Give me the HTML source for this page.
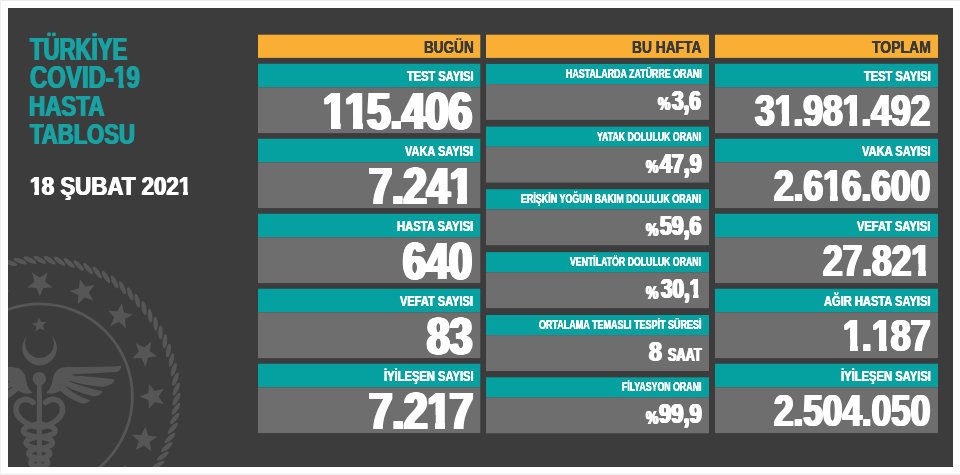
<!DOCTYPE html>
<html lang="tr"><head><meta charset="utf-8"><title>Türkiye COVID-19 Hasta Tablosu</title>
<style>
html,body{margin:0;padding:0;background:#fff;}
body{width:960px;height:475px;position:relative;overflow:hidden;font-family:"Liberation Sans",sans-serif;font-weight:700;}
.r{position:absolute;}
.t{position:absolute;white-space:nowrap;line-height:1;transform-origin:0 0;font-weight:700;}
#panel{position:absolute;left:8px;top:8px;width:945px;height:459px;background:#3c3c3c;overflow:hidden;}
#emblem{position:absolute;left:0;top:0;}
.o{display:inline-block;margin-right:-0.03em;clip-path:polygon(-1em -1em,calc(.3706em + var(--o)) -1em,calc(.3706em + var(--o)) 2em,calc(.2334em - var(--o)) 2em,calc(.2334em - var(--o)) .5667em,-1em .5667em);}
</style></head><body>

<div class="r" style="left:0;top:0;width:960px;height:1px;background:#ececec"></div>
<div class="r" style="left:0;top:0;width:1px;height:475px;background:#ececec"></div>
<div class="r" style="left:0;top:473px;width:960px;height:1px;background:#f8f8f8"></div>
<div class="r" style="left:0;top:474px;width:960px;height:1px;background:#ececec"></div>
<div id="panel"><svg id="emblem" width="960" height="475" viewBox="0 0 960 475" style="position:absolute;left:-8px;top:-8px" fill="#565656" stroke="none"><g><ellipse cx="39.8" cy="259.8" rx="7.1" ry="2.3" transform="rotate(29.0 39.8 259.8)"/><ellipse cx="49.7" cy="260.2" rx="7.1" ry="2.3" transform="rotate(33.1 49.7 260.2)"/><ellipse cx="59.5" cy="261.2" rx="7.1" ry="2.3" transform="rotate(37.3 59.5 261.2)"/><ellipse cx="69.2" cy="263.0" rx="7.1" ry="2.3" transform="rotate(41.4 69.2 263.0)"/><ellipse cx="78.7" cy="265.5" rx="7.1" ry="2.3" transform="rotate(45.6 78.7 265.5)"/><ellipse cx="88.1" cy="268.6" rx="7.1" ry="2.3" transform="rotate(49.7 88.1 268.6)"/><ellipse cx="97.2" cy="272.4" rx="7.1" ry="2.3" transform="rotate(53.8 97.2 272.4)"/><ellipse cx="106.0" cy="276.9" rx="7.1" ry="2.3" transform="rotate(58.0 106.0 276.9)"/><ellipse cx="114.5" cy="282.0" rx="7.1" ry="2.3" transform="rotate(62.1 114.5 282.0)"/><ellipse cx="122.5" cy="287.7" rx="7.1" ry="2.3" transform="rotate(66.2 122.5 287.7)"/><ellipse cx="130.2" cy="293.9" rx="7.1" ry="2.3" transform="rotate(70.4 130.2 293.9)"/><ellipse cx="137.3" cy="300.7" rx="7.1" ry="2.3" transform="rotate(74.5 137.3 300.7)"/><ellipse cx="144.0" cy="308.0" rx="7.1" ry="2.3" transform="rotate(78.7 144.0 308.0)"/><ellipse cx="150.1" cy="315.8" rx="7.1" ry="2.3" transform="rotate(82.8 150.1 315.8)"/><ellipse cx="155.6" cy="323.9" rx="7.1" ry="2.3" transform="rotate(86.9 155.6 323.9)"/><ellipse cx="160.6" cy="332.5" rx="7.1" ry="2.3" transform="rotate(91.1 160.6 332.5)"/><ellipse cx="164.9" cy="341.4" rx="7.1" ry="2.3" transform="rotate(95.2 164.9 341.4)"/><ellipse cx="168.5" cy="350.5" rx="7.1" ry="2.3" transform="rotate(99.3 168.5 350.5)"/><ellipse cx="171.5" cy="359.9" rx="7.1" ry="2.3" transform="rotate(103.5 171.5 359.9)"/><ellipse cx="173.8" cy="369.5" rx="7.1" ry="2.3" transform="rotate(107.6 173.8 369.5)"/><ellipse cx="175.4" cy="379.3" rx="7.1" ry="2.3" transform="rotate(111.8 175.4 379.3)"/><ellipse cx="176.3" cy="389.1" rx="7.1" ry="2.3" transform="rotate(115.9 176.3 389.1)"/><ellipse cx="176.5" cy="399.0" rx="7.1" ry="2.3" transform="rotate(120.0 176.5 399.0)"/><ellipse cx="175.9" cy="408.8" rx="7.1" ry="2.3" transform="rotate(124.2 175.9 408.8)"/><ellipse cx="174.7" cy="418.6" rx="7.1" ry="2.3" transform="rotate(128.3 174.7 418.6)"/><ellipse cx="172.8" cy="428.3" rx="7.1" ry="2.3" transform="rotate(132.4 172.8 428.3)"/><ellipse cx="170.1" cy="437.8" rx="7.1" ry="2.3" transform="rotate(136.6 170.1 437.8)"/><ellipse cx="166.8" cy="447.1" rx="7.1" ry="2.3" transform="rotate(140.7 166.8 447.1)"/><ellipse cx="162.8" cy="456.1" rx="7.1" ry="2.3" transform="rotate(144.9 162.8 456.1)"/><ellipse cx="158.2" cy="464.9" rx="7.1" ry="2.3" transform="rotate(149.0 158.2 464.9)"/><ellipse cx="152.9" cy="473.2" rx="7.1" ry="2.3" transform="rotate(153.1 152.9 473.2)"/><ellipse cx="0.9" cy="265.5" rx="7.1" ry="2.3" transform="rotate(372.4 0.9 265.5)"/><ellipse cx="10.4" cy="263.0" rx="7.1" ry="2.3" transform="rotate(376.6 10.4 263.0)"/><ellipse cx="20.1" cy="261.2" rx="7.1" ry="2.3" transform="rotate(380.7 20.1 261.2)"/><ellipse cx="29.9" cy="260.2" rx="7.1" ry="2.3" transform="rotate(384.9 29.9 260.2)"/></g><polygon points="39.8,296.6 36.4,287.9 27.2,287.4 34.4,281.5 32.0,272.5 39.8,277.6 47.6,272.5 45.2,281.5 52.4,287.4 43.2,287.9"/><polygon points="78.0,304.2 78.2,294.9 69.9,290.9 78.8,288.2 80.0,279.0 85.3,286.6 94.5,285.0 88.8,292.4 93.2,300.6 84.5,297.5"/><polygon points="110.4,325.9 114.2,317.4 108.0,310.4 117.2,311.4 121.9,303.3 123.9,312.4 133.0,314.4 124.9,319.1 125.9,328.3 118.9,322.1"/><polygon points="132.1,358.3 138.8,351.8 135.7,343.1 143.9,347.5 151.3,341.8 149.7,351.0 157.3,356.3 148.1,357.5 145.4,366.4 141.4,358.1"/><polygon points="139.7,396.5 148.4,393.1 148.9,383.9 154.8,391.1 163.8,388.7 158.7,396.5 163.8,404.3 154.8,401.9 148.9,409.1 148.4,399.9"/><polygon points="132.1,434.7 141.4,434.9 145.4,426.6 148.1,435.5 157.3,436.7 149.7,442.0 151.3,451.2 143.9,445.5 135.7,449.9 138.8,441.2"/><polygon points="110.4,467.1 118.9,470.9 125.9,464.7 124.9,473.9 133.0,478.6 123.9,480.6 121.9,489.7 117.2,481.6 108.0,482.6 114.2,475.6"/><polygon points="1.6,304.2 -4.9,297.5 -13.6,300.6 -9.2,292.4 -14.9,285.0 -5.7,286.6 -0.4,279.0 0.8,288.2 9.7,290.9 1.4,294.9"/><circle cx="39.8" cy="396.5" r="92.6" fill="none" stroke="#565656" stroke-width="2.8"/><polygon points="38.6,317.2 41.1,322.1 46.5,321.8 42.7,325.7 44.6,330.8 39.8,328.3 35.5,331.8 36.3,326.4 31.8,323.4 37.2,322.5"/><path d="M27.8 335.35A17.3 17.3 0 1 0 51.4 335.35A14.4 14.4 0 1 1 27.8 335.35Z"/><circle cx="39.3" cy="378.8" r="6.8"/><path d="M37.4 383 L36.8 392 L36.8 480 L41.9 480 L41.9 392 L41.3 383Z"/><path d="M46 393C49.5 390 51.5 386 52.3 381.5C53 376 55 371 59.5 368.6C62 367.3 66 367 70 367L75 367L72.5 375L69 381L66.5 386.5L61 390.5C56.5 393 52 394.8 46 393ZM64 367.2L112 366.6C116 366.6 119 366.3 121.5 365.6C121 369 119.5 371.5 116.5 372L70.5 374.4ZM70 375.3C85 376.3 100 377.8 112 379C113.5 379.2 114.6 379.8 114.6 380.8C112 384.5 107 387 101 386.8C90 386 78 383.5 67.3 380.3ZM67.3 380.8C79 385.2 91 389 102.8 391.4C101 394.5 97.5 396.5 93.5 396.2C83 394 73 390.2 64.8 385.8ZM64.8 386.3C72 392 81 397.5 90.5 400.6C88 403.3 84 404.2 81 403.2C72 400 65 395.5 59.5 390Z"/><path d="M46 393C49.5 390 51.5 386 52.3 381.5C53 376 55 371 59.5 368.6C62 367.3 66 367 70 367L75 367L72.5 375L69 381L66.5 386.5L61 390.5C56.5 393 52 394.8 46 393ZM64 367.2L112 366.6C116 366.6 119 366.3 121.5 365.6C121 369 119.5 371.5 116.5 372L70.5 374.4ZM70 375.3C85 376.3 100 377.8 112 379C113.5 379.2 114.6 379.8 114.6 380.8C112 384.5 107 387 101 386.8C90 386 78 383.5 67.3 380.3ZM67.3 380.8C79 385.2 91 389 102.8 391.4C101 394.5 97.5 396.5 93.5 396.2C83 394 73 390.2 64.8 385.8ZM64.8 386.3C72 392 81 397.5 90.5 400.6C88 403.3 84 404.2 81 403.2C72 400 65 395.5 59.5 390Z" transform="translate(78.6 0) scale(-1 1)"/><path d="M42 427 C54 424 63.5 417 62.5 408 C61.5 399.5 52 396.8 45.5 402.5" fill="none" stroke="#565656" stroke-width="5.6" stroke-linecap="round"/><path d="M42 427 C54 424 63.5 417 62.5 408 C61.5 399.5 52 396.8 45.5 402.5" fill="none" stroke="#565656" stroke-width="5.6" stroke-linecap="round" transform="translate(78.6 0) scale(-1 1)"/><path d="M41.3 424.0 C17.7 425.9 17.7 435.1 39.3 437.0 C56.8 438.7 56.8 446.8 39.3 448.5 C25.1 450.0 25.1 457.0 39.3 458.5 C50.8 459.8 50.8 465.7 39.3 467.0 C29.8 468.2 29.8 473.8 39.3 475.0" fill="none" stroke="#565656" stroke-width="5.4" stroke-linecap="round"/><path d="M37.3 424.0 C60.9 425.9 60.9 435.1 39.3 437.0 C21.7 438.7 21.7 446.8 39.3 448.5 C53.5 450.0 53.5 457.0 39.3 458.5 C27.8 459.8 27.8 465.7 39.3 467.0 C48.8 468.2 48.8 473.8 39.3 475.0" fill="none" stroke="#565656" stroke-width="5.4" stroke-linecap="round"/></svg></div>
<svg class="r" style="left:0;top:0" width="960" height="475" viewBox="0 0 960 475"><rect x="258.00" y="34.70" width="222.30" height="23.20" fill="#f8af34"/><rect x="486.00" y="34.70" width="223.00" height="23.20" fill="#f8af34"/><rect x="715.00" y="34.70" width="223.00" height="23.20" fill="#f8af34"/><rect x="258.00" y="63.75" width="222.30" height="23.55" fill="#05a0a0"/><rect x="258.00" y="87.30" width="222.30" height="45.80" fill="#6e6e6e"/><rect x="715.00" y="63.75" width="223.00" height="23.55" fill="#05a0a0"/><rect x="715.00" y="87.30" width="223.00" height="45.80" fill="#6e6e6e"/><rect x="258.00" y="138.75" width="222.30" height="23.55" fill="#05a0a0"/><rect x="258.00" y="162.30" width="222.30" height="45.80" fill="#6e6e6e"/><rect x="715.00" y="138.75" width="223.00" height="23.55" fill="#05a0a0"/><rect x="715.00" y="162.30" width="223.00" height="45.80" fill="#6e6e6e"/><rect x="258.00" y="213.75" width="222.30" height="23.55" fill="#05a0a0"/><rect x="258.00" y="237.30" width="222.30" height="45.80" fill="#6e6e6e"/><rect x="715.00" y="213.75" width="223.00" height="23.55" fill="#05a0a0"/><rect x="715.00" y="237.30" width="223.00" height="45.80" fill="#6e6e6e"/><rect x="258.00" y="288.75" width="222.30" height="23.55" fill="#05a0a0"/><rect x="258.00" y="312.30" width="222.30" height="45.80" fill="#6e6e6e"/><rect x="715.00" y="288.75" width="223.00" height="23.55" fill="#05a0a0"/><rect x="715.00" y="312.30" width="223.00" height="45.80" fill="#6e6e6e"/><rect x="258.00" y="363.75" width="222.30" height="23.55" fill="#05a0a0"/><rect x="258.00" y="387.30" width="222.30" height="45.80" fill="#6e6e6e"/><rect x="715.00" y="363.75" width="223.00" height="23.55" fill="#05a0a0"/><rect x="715.00" y="387.30" width="223.00" height="45.80" fill="#6e6e6e"/><rect x="486.00" y="63.90" width="223.00" height="20.20" fill="#05a0a0"/><rect x="486.00" y="84.05" width="223.00" height="35.85" fill="#6e6e6e"/><rect x="486.00" y="126.60" width="223.00" height="20.20" fill="#05a0a0"/><rect x="486.00" y="146.75" width="223.00" height="35.85" fill="#6e6e6e"/><rect x="486.00" y="189.20" width="223.00" height="20.20" fill="#05a0a0"/><rect x="486.00" y="209.35" width="223.00" height="35.85" fill="#6e6e6e"/><rect x="486.00" y="252.10" width="223.00" height="20.20" fill="#05a0a0"/><rect x="486.00" y="272.25" width="223.00" height="35.85" fill="#6e6e6e"/><rect x="486.00" y="315.00" width="223.00" height="20.20" fill="#05a0a0"/><rect x="486.00" y="335.15" width="223.00" height="35.85" fill="#6e6e6e"/><rect x="486.00" y="377.30" width="223.00" height="20.20" fill="#05a0a0"/><rect x="486.00" y="397.45" width="223.00" height="35.85" fill="#6e6e6e"/></svg>
<span class="t" style="left:30.10px;top:33.90px;font-size:30.6719px;color:#17a2a3;transform:scaleX(0.7236);text-shadow:1.04px 0 0 #17a2a3,-1.04px 0 0 #17a2a3;">TÜRKİYE</span>
<span class="t" style="left:30.15px;top:62.00px;font-size:30.5312px;color:#17a2a3;transform:scaleX(0.7846);text-shadow:0.96px 0 0 #17a2a3,-0.96px 0 0 #17a2a3;--o:0.96px;">COVID-<span class="o">1</span>9</span>
<span class="t" style="left:29.45px;top:90.50px;font-size:30.3750px;color:#17a2a3;transform:scaleX(0.7370);text-shadow:1.02px 0 0 #17a2a3,-1.02px 0 0 #17a2a3;">HASTA</span>
<span class="t" style="left:30.10px;top:118.90px;font-size:30.3750px;color:#17a2a3;transform:scaleX(0.7256);text-shadow:1.03px 0 0 #17a2a3,-1.03px 0 0 #17a2a3;">TABLOSU</span>
<span class="t" style="left:29.62px;top:174.20px;font-size:25.4375px;color:#fff;transform:scaleX(0.8765);text-shadow:0.74px 0 0 #fff,-0.74px 0 0 #fff;--o:0.74px;"><span class="o">1</span>8 ŞUBAT 202<span class="o">1</span></span>
<span class="t" style="left:423.84px;top:39.60px;font-size:16.7188px;color:#3a3a3a;transform:scaleX(0.8109);text-shadow:0.31px 0 0 #3a3a3a,-0.31px 0 0 #3a3a3a;">BUGÜN</span>
<span class="t" style="left:632.13px;top:39.60px;font-size:16.7188px;color:#3a3a3a;transform:scaleX(0.8245);text-shadow:0.30px 0 0 #3a3a3a,-0.30px 0 0 #3a3a3a;">BU HAFTA</span>
<span class="t" style="left:871.59px;top:39.60px;font-size:16.7188px;color:#3a3a3a;transform:scaleX(0.8382);text-shadow:0.30px 0 0 #3a3a3a,-0.30px 0 0 #3a3a3a;">TOPLAM</span>
<span class="t" style="left:406.57px;top:68.00px;font-size:15.5469px;color:#fff;transform:scaleX(0.7123);text-shadow:0.42px 0 0 #fff,-0.42px 0 0 #fff;">TEST SAYISI</span>
<span class="t" style="left:322.93px;top:85.20px;font-size:52.6094px;color:#fff;transform:scaleX(0.7974);text-shadow:2.26px 0 0 #fff,-2.26px 0 0 #fff,1.50px 0 0 #fff,-1.50px 0 0 #fff,0.75px 0 0 #fff,-0.75px 0 0 #fff;--o:2.26px;"><span class="o">1</span><span class="o">1</span>5.406</span>
<span class="t" style="left:405.20px;top:143.00px;font-size:15.5469px;color:#fff;transform:scaleX(0.7072);text-shadow:0.42px 0 0 #fff,-0.42px 0 0 #fff;">VAKA SAYISI</span>
<span class="t" style="left:369.01px;top:160.20px;font-size:52.6094px;color:#fff;transform:scaleX(0.7891);text-shadow:2.28px 0 0 #fff,-2.28px 0 0 #fff,1.52px 0 0 #fff,-1.52px 0 0 #fff,0.76px 0 0 #fff,-0.76px 0 0 #fff;--o:2.28px;">7.24<span class="o">1</span></span>
<span class="t" style="left:396.95px;top:218.00px;font-size:15.5469px;color:#fff;transform:scaleX(0.7220);text-shadow:0.42px 0 0 #fff,-0.42px 0 0 #fff;">HASTA SAYISI</span>
<span class="t" style="left:403.28px;top:235.20px;font-size:52.6094px;color:#fff;transform:scaleX(0.7864);text-shadow:2.29px 0 0 #fff,-2.29px 0 0 #fff,1.53px 0 0 #fff,-1.53px 0 0 #fff,0.76px 0 0 #fff,-0.76px 0 0 #fff;">640</span>
<span class="t" style="left:400.20px;top:293.00px;font-size:15.5469px;color:#fff;transform:scaleX(0.7104);text-shadow:0.42px 0 0 #fff,-0.42px 0 0 #fff;">VEFAT SAYISI</span>
<span class="t" style="left:426.89px;top:310.20px;font-size:52.6094px;color:#fff;transform:scaleX(0.7731);text-shadow:2.33px 0 0 #fff,-2.33px 0 0 #fff,1.55px 0 0 #fff,-1.55px 0 0 #fff,0.78px 0 0 #fff,-0.78px 0 0 #fff;">83</span>
<span class="t" style="left:383.55px;top:368.00px;font-size:15.5469px;color:#fff;transform:scaleX(0.7194);text-shadow:0.42px 0 0 #fff,-0.42px 0 0 #fff;">İYİLEŞEN SAYISI</span>
<span class="t" style="left:368.99px;top:385.20px;font-size:52.6094px;color:#fff;transform:scaleX(0.7997);text-shadow:2.25px 0 0 #fff,-2.25px 0 0 #fff,1.50px 0 0 #fff,-1.50px 0 0 #fff,0.75px 0 0 #fff,-0.75px 0 0 #fff;--o:2.25px;">7.2<span class="o">1</span>7</span>
<span class="t" style="left:863.77px;top:68.00px;font-size:15.5469px;color:#fff;transform:scaleX(0.7134);text-shadow:0.42px 0 0 #fff,-0.42px 0 0 #fff;">TEST SAYISI</span>
<span class="t" style="left:754.75px;top:89.20px;font-size:43.8906px;color:#fff;transform:scaleX(0.8083);text-shadow:1.48px 0 0 #fff,-1.48px 0 0 #fff,0.74px 0 0 #fff,-0.74px 0 0 #fff;--o:1.48px;">3<span class="o">1</span>.98<span class="o">1</span>.492</span>
<span class="t" style="left:861.80px;top:143.00px;font-size:15.5469px;color:#fff;transform:scaleX(0.7145);text-shadow:0.42px 0 0 #fff,-0.42px 0 0 #fff;">VAKA SAYISI</span>
<span class="t" style="left:773.97px;top:164.20px;font-size:43.8906px;color:#fff;transform:scaleX(0.8059);text-shadow:1.49px 0 0 #fff,-1.49px 0 0 #fff,0.74px 0 0 #fff,-0.74px 0 0 #fff;--o:1.49px;">2.6<span class="o">1</span>6.600</span>
<span class="t" style="left:857.20px;top:218.00px;font-size:15.5469px;color:#fff;transform:scaleX(0.7134);text-shadow:0.42px 0 0 #fff,-0.42px 0 0 #fff;">VEFAT SAYISI</span>
<span class="t" style="left:822.97px;top:239.20px;font-size:43.8906px;color:#fff;transform:scaleX(0.8043);text-shadow:1.49px 0 0 #fff,-1.49px 0 0 #fff,0.75px 0 0 #fff,-0.75px 0 0 #fff;--o:1.49px;">27.82<span class="o">1</span></span>
<span class="t" style="left:823.99px;top:293.00px;font-size:15.5469px;color:#fff;transform:scaleX(0.7158);text-shadow:0.42px 0 0 #fff,-0.42px 0 0 #fff;">AĞIR HASTA SAYISI</span>
<span class="t" style="left:842.75px;top:314.20px;font-size:43.8906px;color:#fff;transform:scaleX(0.8171);text-shadow:1.47px 0 0 #fff,-1.47px 0 0 #fff,0.73px 0 0 #fff,-0.73px 0 0 #fff;--o:1.47px;"><span class="o">1</span>.<span class="o">1</span>87</span>
<span class="t" style="left:840.55px;top:368.00px;font-size:15.5469px;color:#fff;transform:scaleX(0.7218);text-shadow:0.42px 0 0 #fff,-0.42px 0 0 #fff;">İYİLEŞEN SAYISI</span>
<span class="t" style="left:773.98px;top:389.20px;font-size:43.8906px;color:#fff;transform:scaleX(0.8004);text-shadow:1.50px 0 0 #fff,-1.50px 0 0 #fff,0.75px 0 0 #fff,-0.75px 0 0 #fff;">2.504.050</span>
<span class="t" style="left:565.61px;top:67.90px;font-size:12.6406px;color:#fff;transform:scaleX(0.7020);text-shadow:0.28px 0 0 #fff,-0.28px 0 0 #fff;">HASTALARDA ZATÜRRE ORANI</span>
<span class="t" style="left:597.23px;top:130.60px;font-size:12.6406px;color:#fff;transform:scaleX(0.6948);text-shadow:0.29px 0 0 #fff,-0.29px 0 0 #fff;">YATAK DOLULUK ORANI</span>
<span class="t" style="left:521.30px;top:193.20px;font-size:12.6406px;color:#fff;transform:scaleX(0.7055);text-shadow:0.28px 0 0 #fff,-0.28px 0 0 #fff;">ERİŞKİN YOĞUN BAKIM DOLULUK ORANI</span>
<span class="t" style="left:570.32px;top:256.10px;font-size:12.6406px;color:#fff;transform:scaleX(0.6927);text-shadow:0.29px 0 0 #fff,-0.29px 0 0 #fff;">VENTİLATÖR DOLULUK ORANI</span>
<span class="t" style="left:538.83px;top:319.00px;font-size:12.6406px;color:#fff;transform:scaleX(0.7128);text-shadow:0.28px 0 0 #fff,-0.28px 0 0 #fff;">ORTALAMA TEMASLI TESPİT SÜRESİ</span>
<span class="t" style="left:622.01px;top:381.30px;font-size:12.6406px;color:#fff;transform:scaleX(0.6957);text-shadow:0.29px 0 0 #fff,-0.29px 0 0 #fff;">FİLYASYON ORANI</span>
<span class="t" style="left:658.10px;top:95.40px;font-size:18.7500px;color:#fff;transform:scaleX(0.7451);text-shadow:0.87px 0 0 #fff,-0.87px 0 0 #fff;">%</span>
<span class="t" style="left:672.20px;top:87.90px;font-size:26.8906px;color:#fff;transform:scaleX(0.7741);text-shadow:1.29px 0 0 #fff,-1.29px 0 0 #fff,0.65px 0 0 #fff,-0.65px 0 0 #fff;">3,6</span>
<span class="t" style="left:646.00px;top:158.10px;font-size:18.7500px;color:#fff;transform:scaleX(0.7451);text-shadow:0.87px 0 0 #fff,-0.87px 0 0 #fff;">%</span>
<span class="t" style="left:659.67px;top:150.60px;font-size:26.8906px;color:#fff;transform:scaleX(0.7935);text-shadow:1.26px 0 0 #fff,-1.26px 0 0 #fff,0.63px 0 0 #fff,-0.63px 0 0 #fff;">47,9</span>
<span class="t" style="left:646.30px;top:220.70px;font-size:18.7500px;color:#fff;transform:scaleX(0.7451);text-shadow:0.87px 0 0 #fff,-0.87px 0 0 #fff;">%</span>
<span class="t" style="left:660.20px;top:213.20px;font-size:26.8906px;color:#fff;transform:scaleX(0.7904);text-shadow:1.27px 0 0 #fff,-1.27px 0 0 #fff,0.63px 0 0 #fff,-0.63px 0 0 #fff;">59,6</span>
<span class="t" style="left:646.30px;top:283.60px;font-size:18.7500px;color:#fff;transform:scaleX(0.7451);text-shadow:0.87px 0 0 #fff,-0.87px 0 0 #fff;">%</span>
<span class="t" style="left:660.50px;top:276.10px;font-size:26.8906px;color:#fff;transform:scaleX(0.7666);text-shadow:1.30px 0 0 #fff,-1.30px 0 0 #fff,0.65px 0 0 #fff,-0.65px 0 0 #fff;--o:1.30px;">30,<span class="o">1</span></span>
<span class="t" style="left:649.05px;top:337.80px;font-size:27.3281px;color:#fff;transform:scaleX(0.8465);text-shadow:1.18px 0 0 #fff,-1.18px 0 0 #fff;">8</span>
<span class="t" style="left:667.52px;top:345.60px;font-size:18.6094px;color:#fff;transform:scaleX(0.6841);text-shadow:1.02px 0 0 #fff,-1.02px 0 0 #fff;">SAAT</span>
<span class="t" style="left:646.00px;top:408.80px;font-size:18.7500px;color:#fff;transform:scaleX(0.7451);text-shadow:0.87px 0 0 #fff,-0.87px 0 0 #fff;">%</span>
<span class="t" style="left:658.63px;top:401.30px;font-size:26.8906px;color:#fff;transform:scaleX(0.8197);text-shadow:1.22px 0 0 #fff,-1.22px 0 0 #fff,0.61px 0 0 #fff,-0.61px 0 0 #fff;">99,9</span>
</body></html>
